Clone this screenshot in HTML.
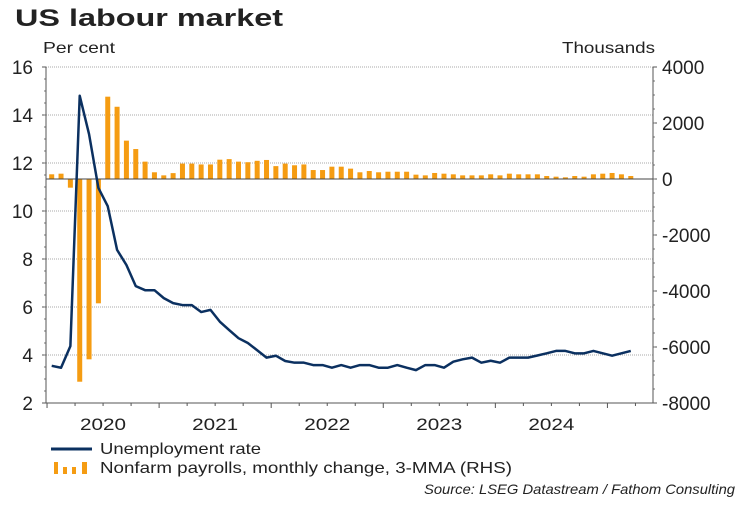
<!DOCTYPE html>
<html><head><meta charset="utf-8"><style>
body{margin:0;background:#fff;width:750px;height:500px;overflow:hidden;font-family:"Liberation Sans",Arial,sans-serif;}
svg text{font-family:"Liberation Sans",Arial,sans-serif;fill:#222;}
</style></head><body>
<svg id="chart" width="750" height="500">
<text x="15" y="26" font-size="24" font-weight="bold" textLength="268" lengthAdjust="spacingAndGlyphs">US labour market</text>
<text x="43" y="53" font-size="16" textLength="72" lengthAdjust="spacingAndGlyphs">Per cent</text>
<text x="562" y="53" font-size="16" textLength="93" lengthAdjust="spacingAndGlyphs">Thousands</text>
<g id="grid"></g><g id="bars"></g><g id="axes"></g><g id="line"></g>
<line x1="51" y1="449" x2="92" y2="449" stroke="#0b3060" stroke-width="3"/>
<text x="100" y="454" font-size="16" textLength="161" lengthAdjust="spacingAndGlyphs">Unemployment rate</text>
<g fill="#f59c12">
<rect x="54" y="462" width="4" height="12"/><rect x="63" y="467" width="4" height="7"/><rect x="72" y="467" width="4" height="7"/><rect x="82" y="462" width="5" height="12"/></g>
<text x="100" y="473" font-size="16" textLength="412" lengthAdjust="spacingAndGlyphs">Nonfarm payrolls, monthly change, 3-MMA (RHS)</text>
<text x="424" y="494" font-size="14" font-style="italic" textLength="311" lengthAdjust="spacingAndGlyphs" fill="#333">Source: LSEG Datastream / Fathom Consulting</text>
</svg>
<script>
const unemployment=[3.55,3.47,4.37,14.8,13.2,10.96,10.2,8.38,7.75,6.87,6.7,6.7,6.37,6.16,6.08,6.08,5.79,5.88,5.39,5.04,4.7,4.5,4.2,3.89,3.97,3.75,3.68,3.68,3.58,3.58,3.47,3.58,3.47,3.58,3.58,3.47,3.47,3.58,3.47,3.37,3.58,3.58,3.47,3.72,3.82,3.89,3.68,3.76,3.68,3.89,3.89,3.89,3.98,4.07,4.17,4.17,4.07,4.07,4.17,4.07,3.97,4.07,4.17];
const payrolls=[168,190,-310,-7240,-6440,-4440,2940,2580,1370,1070,620,240,130,210,550,550,520,520,690,710,620,600,650,680,460,550,490,520,320,320,440,440,370,240,285,240,260,260,260,155,130,215,190,167,130,130,130,167,130,190,167,167,167,107,83,60,107,83,167,190,215,167,107];
const leftTicks=[2,4,6,8,10,12,14,16];
const rightTicks=[-8000,-6000,-4000,-2000,0,2000,4000];
const yearLabels=["2020","2021","2022","2023","2024"];
const X0=46,X1=653,YT=67,YB=403;
const yL=v=>YT+(16-v)*(YB-YT)/14;
const yR=v=>YT+(4000-v)*(YB-YT)/12000;
const xM=i=>51.7+i*9.34;
const NS="http://www.w3.org/2000/svg";
function mk(p,t,a){const e=document.createElementNS(NS,t);for(const k in a)e.setAttribute(k,a[k]);document.getElementById(p).appendChild(e);return e;}
leftTicks.forEach(v=>{
 if(v!==2&&v!==16){const g=mk('grid','line',{x1:X0,x2:X1,y1:yL(v),y2:yL(v),stroke:'#aaa','stroke-dasharray':'1,1'});
 
 }
 const t=mk('axes','text',{x:X0-13,y:yL(v)+7,'font-size':19,'text-anchor':'end'});t.textContent=v;
 
 
 mk('axes','line',{x1:X0-4,x2:X0,y1:yL(v),y2:yL(v),stroke:'#555'});
});
mk('grid','line',{x1:X0,x2:X1,y1:yL(16),y2:yL(16),stroke:'#aaa','stroke-dasharray':'1,1'});
for(let v=2.5;v<16;v+=0.5){mk('axes','line',{x1:X0-2,x2:X0,y1:yL(v),y2:yL(v),stroke:'#777'});}
rightTicks.forEach(v=>{
 const t=mk('axes','text',{x:X1+9,y:yR(v)+7,'font-size':19});t.textContent=v;
 
 
 mk('axes','line',{x1:X1,x2:X1+4,y1:yR(v),y2:yR(v),stroke:'#555'});
});
for(let v=-7500;v<4000;v+=500){mk('axes','line',{x1:X1,x2:X1+2,y1:yR(v),y2:yR(v),stroke:'#777'});}
payrolls.forEach((v,i)=>{const y0=yR(0),y=yR(v);
 const r=mk('bars','rect',{x:xM(i)-2.5,y:Math.min(y,y0),width:5,height:Math.max(1,Math.abs(y-y0)),fill:'#f59c12'});
 
 });
const z=mk('axes','line',{x1:X0,x2:X1,y1:yR(0),y2:yR(0),stroke:'#444','stroke-width':1});


const la=mk('axes','line',{x1:X0,x2:X0,y1:YT,y2:YB,stroke:'#555'});


const ra=mk('axes','line',{x1:X1,x2:X1,y1:YT,y2:YB,stroke:'#555'});


const xa=mk('axes','line',{x1:X0,x2:X1,y1:YB,y2:YB,stroke:'#555'});


for(let m=0;m<=64;m+=3){const xx=xM(m)-4.67;if(xx>X1)break;mk('axes','line',{x1:xx,x2:xx,y1:YB,y2:YB+(m%12===0?5:3),stroke:'#555'});}
yearLabels.forEach((s,k)=>{const t=mk('axes','text',{x:xM(12*k+5.5)-23,y:YB+27,'font-size':17,textLength:46,lengthAdjust:'spacingAndGlyphs'});t.textContent=s;
 
 });
const p=mk('line','polyline',{points:unemployment.map((v,i)=>xM(i)+','+yL(v)).join(' '),fill:'none',stroke:'#0b3060','stroke-width':2.5,'stroke-linejoin':'round'});


</script>
</body></html>
